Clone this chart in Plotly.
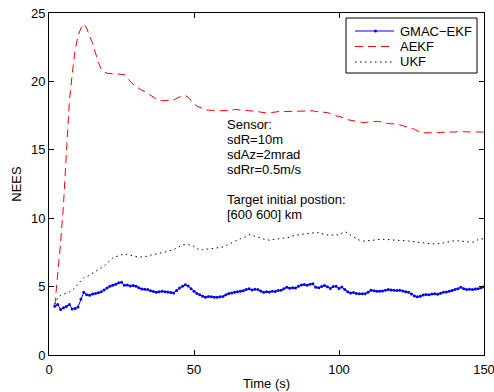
import plotly.graph_objects as go

# Sample times (s), one sample per second
time_s = list(range(2, 151))

# NEES of the three filters
gmac_ekf = [
    3.56, 3.69, 3.32, 3.45, 3.55, 3.69, 3.37, 3.40, 3.50, 4.10,
    4.59, 4.40, 4.37, 4.45, 4.50, 4.55, 4.62, 4.75, 4.90, 5.03,
    5.10, 5.18, 5.28, 5.32, 5.10, 5.12, 5.05, 5.08, 5.03, 4.92,
    4.82, 4.80, 4.78, 4.70, 4.65, 4.59, 4.63, 4.66, 4.63, 4.60,
    4.57, 4.54, 4.72, 4.90, 5.02, 5.13, 5.05, 4.85, 4.66, 4.50,
    4.40, 4.30, 4.22, 4.28, 4.25, 4.22, 4.22, 4.25, 4.28, 4.40,
    4.50, 4.54, 4.58, 4.62, 4.66, 4.70, 4.78, 4.84, 4.75, 4.80,
    4.78, 4.68, 4.59, 4.62, 4.60, 4.66, 4.64, 4.71, 4.74, 4.85,
    4.95, 4.88, 4.92, 4.90, 5.02, 5.12, 5.15, 5.10, 5.18, 5.20,
    4.95, 4.92, 5.00, 5.08, 4.98, 4.86, 5.00, 5.03, 4.86, 4.97,
    4.78, 4.62, 4.54, 4.56, 4.50, 4.48, 4.47, 4.47, 4.58, 4.73,
    4.70, 4.66, 4.66, 4.68, 4.74, 4.78, 4.76, 4.73, 4.71, 4.73,
    4.68, 4.62, 4.59, 4.45, 4.32, 4.25, 4.30, 4.38, 4.42, 4.40,
    4.45, 4.47, 4.44, 4.52, 4.58, 4.61, 4.66, 4.72, 4.78, 4.85,
    4.95, 4.85, 4.78, 4.80, 4.78, 4.82, 4.84, 4.92, 4.98,
]

aekf = [
    3.6, 5.8, 8.2, 11.0, 14.5, 18.5, 20.5, 22.3, 23.3, 23.9,
    24.2, 23.9, 23.3, 22.8, 22.1, 21.4, 20.9, 20.7, 20.6, 20.55,
    20.55, 20.55, 20.55, 20.55, 20.5, 20.3, 20.0, 19.8, 19.6, 19.5,
    19.35, 19.27, 19.15, 19.0, 18.85, 18.7, 18.62, 18.58, 18.6, 18.6,
    18.6, 18.65, 18.75, 18.85, 18.95, 18.96, 18.85, 18.6, 18.35, 18.2,
    18.1, 18.0, 17.92, 17.9, 17.88, 17.86, 17.86, 17.86, 17.86, 17.86,
    17.88, 17.9, 17.95, 17.93, 17.93, 17.9, 17.88, 17.86, 17.86, 17.86,
    17.8, 17.75, 17.7, 17.69, 17.7, 17.74, 17.78, 17.79, 17.79, 17.8,
    17.8, 17.81, 17.81, 17.81, 17.82, 17.84, 17.86, 17.86, 17.86, 17.85,
    17.8, 17.78, 17.76, 17.76, 17.72, 17.65, 17.56, 17.47, 17.45, 17.4,
    17.3, 17.2, 17.15, 17.1, 17.05, 17.02, 17.0, 17.0, 17.02,
    17.06, 17.08, 17.08, 17.06, 17.0, 16.95, 16.92, 16.9, 16.9, 16.88,
    16.82, 16.76, 16.7, 16.66, 16.6, 16.5, 16.38, 16.3, 16.26, 16.24,
    16.23, 16.23, 16.23, 16.25, 16.27, 16.28, 16.3, 16.32, 16.34, 16.35,
    16.35, 16.35, 16.33, 16.31, 16.3, 16.3, 16.3, 16.3, 16.3, 16.3,
]

ukf = [
    3.7, 4.2, 4.35, 4.42, 4.5, 4.6, 4.75, 4.9, 5.2, 5.45,
    5.64, 5.72, 5.85, 6.0, 6.1, 6.25, 6.4, 6.5, 6.7, 6.9,
    7.1, 7.18, 7.25, 7.34, 7.4, 7.35, 7.3, 7.27, 7.2, 7.15,
    7.17, 7.17, 7.22, 7.3, 7.34, 7.4, 7.45, 7.5, 7.52, 7.6,
    7.65, 7.7, 7.82, 7.95, 8.05, 8.07, 8.07, 8.0, 7.95, 7.8,
    7.66, 7.7, 7.74, 7.76, 7.78, 7.8, 7.83, 7.83, 7.9, 8.0,
    8.1, 8.2, 8.3, 8.45, 8.5, 8.55, 8.65, 8.8, 8.75, 8.7,
    8.63, 8.55, 8.48, 8.42, 8.39, 8.44, 8.47, 8.49, 8.52, 8.56,
    8.6, 8.6, 8.7, 8.75, 8.8, 8.82, 8.84, 8.86, 8.87, 8.92,
    8.97, 8.92, 8.85, 8.8, 8.75, 8.73, 8.78, 8.8, 8.76, 8.9,
    9.02, 8.9, 8.75, 8.63, 8.5, 8.4, 8.33, 8.31, 8.35,
    8.38, 8.42, 8.44, 8.46, 8.47, 8.45, 8.44, 8.42, 8.4, 8.4,
    8.39, 8.39, 8.36, 8.33, 8.3, 8.28, 8.26, 8.24, 8.24, 8.2,
    8.15, 8.12, 8.12, 8.1, 8.15, 8.2, 8.25, 8.3, 8.33, 8.36,
    8.34, 8.32, 8.3, 8.31, 8.28, 8.25, 8.3, 8.45, 8.48, 8.5,
]

series_names = ["GMAC\u2212EKF", "AEKF", "UKF"]

x_ticks = [0, 50, 100, 150]
y_ticks = [0, 5, 10, 15, 20, 25]

info_lines = [
    ("Sensor:", 16.84),
    ("sdR=10m", 15.74),
    ("sdAz=2mrad", 14.64),
    ("sdRr=0.5m/s", 13.55),
    ("Target initial postion:", 11.36),
    ("[600 600] km", 10.26),
]

FONT = "Liberation Sans, Arial, Helvetica, sans-serif"
BLUE = "rgb(0,0,255)"
RED = "rgb(255,0,0)"
RED_DASH = "8px,5px"
DOT_DASH = "1.5px,3.5px"

fig = go.Figure()
fig.add_trace(go.Scatter(
    x=time_s, y=gmac_ekf, name=series_names[0], mode="lines+markers",
    line=dict(color=BLUE, width=1),
    marker=dict(color=BLUE, size=3, symbol="circle"),
))
fig.add_trace(go.Scatter(
    x=time_s, y=aekf, name=series_names[1], mode="lines",
    line=dict(color=RED, width=1, dash=RED_DASH),
))
fig.add_trace(go.Scatter(
    x=time_s, y=ukf, name=series_names[2], mode="lines",
    line=dict(color="black", width=1, dash=DOT_DASH),
))

axis_common = dict(
    showline=True, linecolor="black", linewidth=1, mirror="ticks",
    ticks="inside", ticklen=5, tickcolor="black", tickwidth=1,
    showgrid=False, zeroline=False, automargin=False,
    ticklabeloverflow="allow",
    tickfont=dict(family=FONT, size=13, color="black"),
)

fig.update_layout(
    width=494, height=392,
    margin=dict(l=49, r=10, t=13, b=37),
    paper_bgcolor="white", plot_bgcolor="white",
    font=dict(family=FONT, size=13, color="black"),
    xaxis=dict(range=[0, 150], tickvals=x_ticks, ticklabelstandoff=2,
               title=dict(text="Time (s)", standoff=3,
                          font=dict(family=FONT, size=13, color="black")),
               **axis_common),
    yaxis=dict(range=[0, 25], tickvals=y_ticks,
               title=dict(text="NEES", standoff=6,
                          font=dict(family=FONT, size=13, color="black")),
               **axis_common),
    showlegend=False,
)

# Legend box drawn in paper coordinates (plot area: 435 x 342 px)
PW, PH = 435.0, 342.0


def px_x(px):
    return (px - 49) / PW


def px_y(py):
    return (355 - py) / PH


fig.add_shape(type="rect", xref="paper", yref="paper",
              x0=px_x(346), x1=px_x(477), y0=px_y(73), y1=px_y(18),
              line=dict(color="black", width=1), fillcolor="white",
              layer="above")

legend_rows = [31, 46.5, 62]
legend_styles = [
    dict(color=BLUE, width=1),
    dict(color=RED, width=1, dash=RED_DASH),
    dict(color="black", width=1, dash=DOT_DASH),
]
for name, row, style in zip(series_names, legend_rows, legend_styles):
    fig.add_shape(type="line", xref="paper", yref="paper",
                  x0=px_x(355), x1=px_x(394), y0=px_y(row), y1=px_y(row),
                  line=style, layer="above")
    fig.add_annotation(x=px_x(398), y=px_y(row), xref="paper", yref="paper",
                       text=name, showarrow=False, xanchor="left",
                       yanchor="middle",
                       font=dict(family=FONT, size=13, color="black"))

# dot marker on the GMAC-EKF legend sample
fig.add_shape(type="circle", xref="paper", yref="paper",
              x0=px_x(374), x1=px_x(377),
              y0=px_y(legend_rows[0] + 1.5), y1=px_y(legend_rows[0] - 1.5),
              line=dict(color=BLUE, width=0), fillcolor=BLUE, layer="above")

for text, yv in info_lines:
    fig.add_annotation(
        x=60.7, y=yv, xref="x", yref="y", text=text, showarrow=False,
        xanchor="left", yanchor="middle", align="left",
        font=dict(family=FONT, size=13, color="black"),
    )

fig.write_html("out.html")
